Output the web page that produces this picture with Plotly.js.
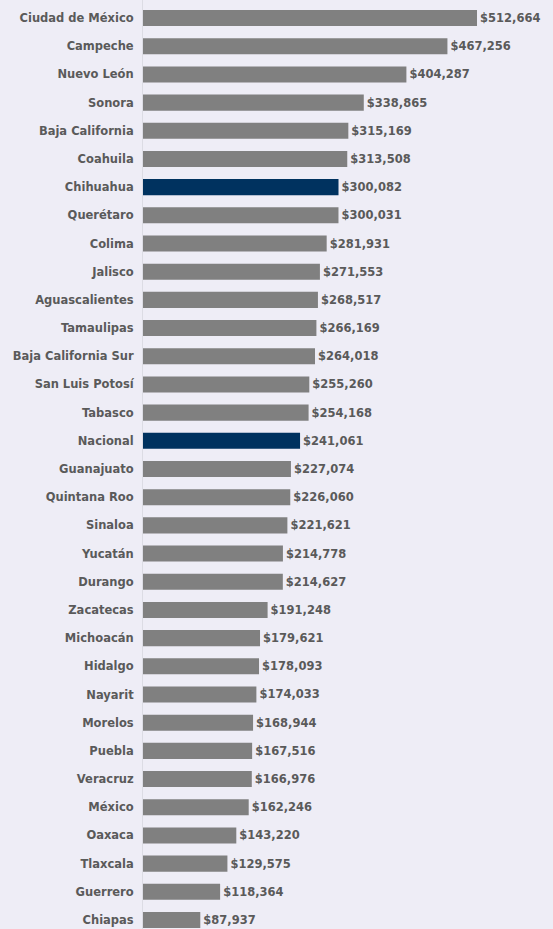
<!DOCTYPE html>
<html><head><meta charset="utf-8">
<script src="https://cdn.plot.ly/plotly-3.0.1.min.js"></script>
<style>html,body{margin:0;padding:0;background:#eeedf6;}#chart{width:553px;height:929px;}</style>
</head><body><div id="chart"></div>
<script>
const states = ["Ciudad de México","Campeche","Nuevo León","Sonora","Baja California","Coahuila","Chihuahua","Querétaro","Colima","Jalisco","Aguascalientes","Tamaulipas","Baja California Sur","San Luis Potosí","Tabasco","Nacional","Guanajuato","Quintana Roo","Sinaloa","Yucatán","Durango","Zacatecas","Michoacán","Hidalgo","Nayarit","Morelos","Puebla","Veracruz","México","Oaxaca","Tlaxcala","Guerrero","Chiapas"];
const values = [512664,467256,404287,338865,315169,313508,300082,300031,281931,271553,268517,266169,264018,255260,254168,241061,227074,226060,221621,214778,214627,191248,179621,178093,174033,168944,167516,166976,162246,143220,129575,118364,87937];
const highlighted = ["Chihuahua","Nacional"];
const colors = states.map(s => highlighted.includes(s) ? "#00325f" : "#808080");
const trace = {
  type: "bar", orientation: "h", y: states, x: values,
  marker: {color: colors, line: {width: 0}},
  width: 0.57,
  texttemplate: "$%{x:,}", textposition: "outside", cliponaxis: false, constraintext: "none",
  textfont: {family: "DejaVu Sans", size: 11.5, color: "#5a5a5a", weight: "bold"},
  hoverinfo: "none"
};
const layout = {
  width: 553, height: 929,
  margin: {l: 143, r: 0, t: 0, b: 0, pad: 0},
  paper_bgcolor: "#eeedf6", plot_bgcolor: "#eeedf6",
  showlegend: false,
  xaxis: {range: [0, 629300], visible: false, showgrid: false, zeroline: false},
  yaxis: {type: "category", range: [32.32, -0.64], showgrid: false, zeroline: false,
    showline: true, linecolor: "#dcdce4", linewidth: 1, ticks: "", ticklabelstandoff: 6,
    tickfont: {family: "DejaVu Sans", size: 11.5, color: "#5a5a5a", weight: "bold"}}
};
Plotly.newPlot("chart", [trace], layout, {displayModeBar: false, staticPlot: true});
</script></body></html>
